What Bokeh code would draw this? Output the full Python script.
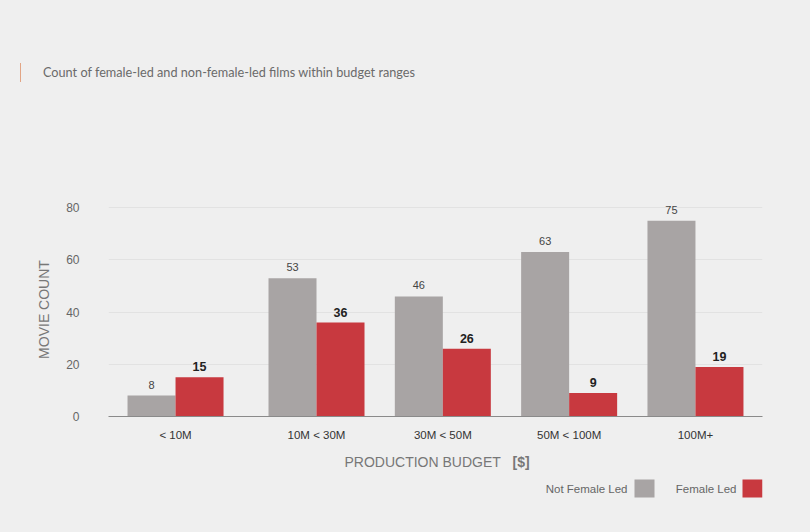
from bokeh.plotting import figure
from bokeh.layouts import column
from bokeh.models import (ColumnDataSource, FactorRange, Range1d, LabelSet, Label,
                          BoxAnnotation, FixedTicker, Div)
from bokeh.core.properties import value
from bokeh.transform import dodge
from bokeh.embed import file_html
from bokeh.resources import INLINE

# ---- data ----
categories = ["< 10M", "10M < 30M", "30M < 50M", "50M < 100M", "100M+"]
budget_groups = ["", " ", " ", " ", " "]
not_female_led = [8, 53, 46, 63, 75]
female_led = [15, 36, 26, 9, 19]
y_ticks = [0, 20, 40, 60, 80]
title_text = "Count of female-led and non-female-led films within budget ranges"
x_title = "PRODUCTION BUDGET"
x_unit = "[$]"
y_title = "MOVIE COUNT"
series_names = ["Not Female Led", "Female Led"]

BG = "#efefef"
GRAY = "#a8a4a4"
RED = "#c8393f"
ACCENT = "#e2a585"
FONT = "Liberation Sans"
W = 794


def blank_fig(h):
    f = figure(width=W, height=h, x_range=Range1d(0, W), y_range=Range1d(0, h),
               x_axis_type=None, y_axis_type=None,
               output_backend="svg", toolbar_location=None,
               background_fill_color=BG, border_fill_color=BG, outline_line_color=None,
               min_border=0, min_border_left=0, min_border_right=0,
               min_border_top=0, min_border_bottom=0)
    f.grid.visible = False
    return f


def canvas_box(l, r, t, b, color):
    return BoxAnnotation(left=l, right=r, top=t, bottom=b,
                         left_units="canvas", right_units="canvas",
                         top_units="canvas", bottom_units="canvas",
                         fill_color=color, fill_alpha=1, line_color=None)


# ---- top: title ----
top = Div(
    text=('<div style="position:absolute; top:55px; left:12px; height:19px; '
          'border-left:1.5px solid %s; padding-left:22px; line-height:19px; '
          'font-family:Lato; font-size:12.7px; color:#6a6a6a; white-space:nowrap;">'
          '%s</div>') % (ACCENT, title_text),
    width=W, height=110, styles={"position": "relative", "margin": "0", "padding": "0"})

# ---- main chart ----
factors = list(zip(budget_groups, categories))
source = ColumnDataSource(dict(x=factors, nf=not_female_led, f=female_led,
                               nf_txt=[str(v) for v in not_female_led],
                               f_txt=[str(v) for v in female_led]))

x_range = FactorRange(*factors, group_padding=0.116, factor_padding=0.0,
                      range_padding=0.012)

p = figure(x_range=x_range, y_range=Range1d(0, 82), width=W, height=334,
           output_backend="svg", toolbar_location=None,
           background_fill_color=BG, border_fill_color=BG, outline_line_color=None,
           min_border_left=100, min_border_right=40, min_border_top=84,
           min_border_bottom=36)

bw = 0.38
p.vbar(x=dodge("x", -bw / 2, range=p.x_range), top="nf", width=bw, source=source,
       fill_color=GRAY, line_color=None)
p.vbar(x=dodge("x", bw / 2, range=p.x_range), top="f", width=bw, source=source,
       fill_color=RED, line_color=None)

p.add_layout(LabelSet(x=dodge("x", -bw / 2, range=p.x_range), y="nf", text="nf_txt",
                      source=source, text_align="center", text_baseline="bottom",
                      y_offset=7, text_font=value(FONT), text_font_size="11px",
                      text_color="#444444"))
p.add_layout(LabelSet(x=dodge("x", bw / 2, range=p.x_range), y="f", text="f_txt",
                      source=source, text_align="center", text_baseline="bottom",
                      y_offset=6, text_font=value(FONT), text_font_size="12.5px",
                      text_font_style="bold", text_color="#222222"))

p.xgrid.grid_line_color = None
p.ygrid.ticker = FixedTicker(ticks=y_ticks)
p.ygrid.grid_line_color = "#e2e2e2"

p.yaxis.ticker = FixedTicker(ticks=y_ticks)
p.yaxis.axis_line_color = None
p.yaxis.major_tick_line_color = None
p.yaxis.minor_tick_line_color = None
p.yaxis.major_label_text_font = FONT
p.yaxis.major_label_text_font_size = "12px"
p.yaxis.major_label_text_color = "#666666"
p.yaxis.major_label_standoff = 23
p.yaxis.axis_label = y_title
p.yaxis.axis_label_text_font = FONT
p.yaxis.axis_label_text_font_size = "14px"
p.yaxis.axis_label_text_font_style = "normal"
p.yaxis.axis_label_text_color = "#777777"
p.yaxis.axis_label_standoff = 11

p.xaxis.axis_line_color = "#8a8a8a"
p.xaxis.major_tick_line_color = None
p.xaxis.minor_tick_line_color = None
p.xaxis.major_label_text_font = FONT
p.xaxis.major_label_text_font_size = "11.5px"
p.xaxis.major_label_text_color = "#333333"
p.xaxis.major_label_standoff = 6
p.xaxis.group_text_font_size = "0px"
p.xaxis.group_text_color = BG
p.xaxis.separator_line_color = None

# ---- bottom: x title + legend ----
bot = blank_fig(72)
bot.add_layout(Label(x=336, y=9, x_units="canvas", y_units="canvas",
                     text=x_title, text_font=FONT, text_font_size="14px",
                     text_color="#777777", text_baseline="middle", text_align="left"))
bot.add_layout(Label(x=504, y=9, x_units="canvas", y_units="canvas",
                     text=x_unit, text_font=FONT, text_font_size="14px",
                     text_font_style="bold", text_color="#777777",
                     text_baseline="middle", text_align="left"))
bot.add_layout(Label(x=619, y=36, x_units="canvas", y_units="canvas",
                     text=series_names[0], text_font=FONT, text_font_size="11.5px",
                     text_color="#666666", text_baseline="middle", text_align="right"))
bot.add_layout(canvas_box(626, 646, 27, 45, GRAY))
bot.add_layout(Label(x=728, y=36, x_units="canvas", y_units="canvas",
                     text=series_names[1], text_font=FONT, text_font_size="11.5px",
                     text_color="#666666", text_baseline="middle", text_align="right"))
bot.add_layout(canvas_box(734, 754, 27, 45, RED))

layout = column(top, p, bot, spacing=0)
html = file_html(layout, INLINE)
html = html.replace("</head>",
                    "<style>html{background-color:#efefef;} "
                    "body{background-color:#efefef; margin:8px;}</style></head>", 1)
open("out.html", "w").write(html)
